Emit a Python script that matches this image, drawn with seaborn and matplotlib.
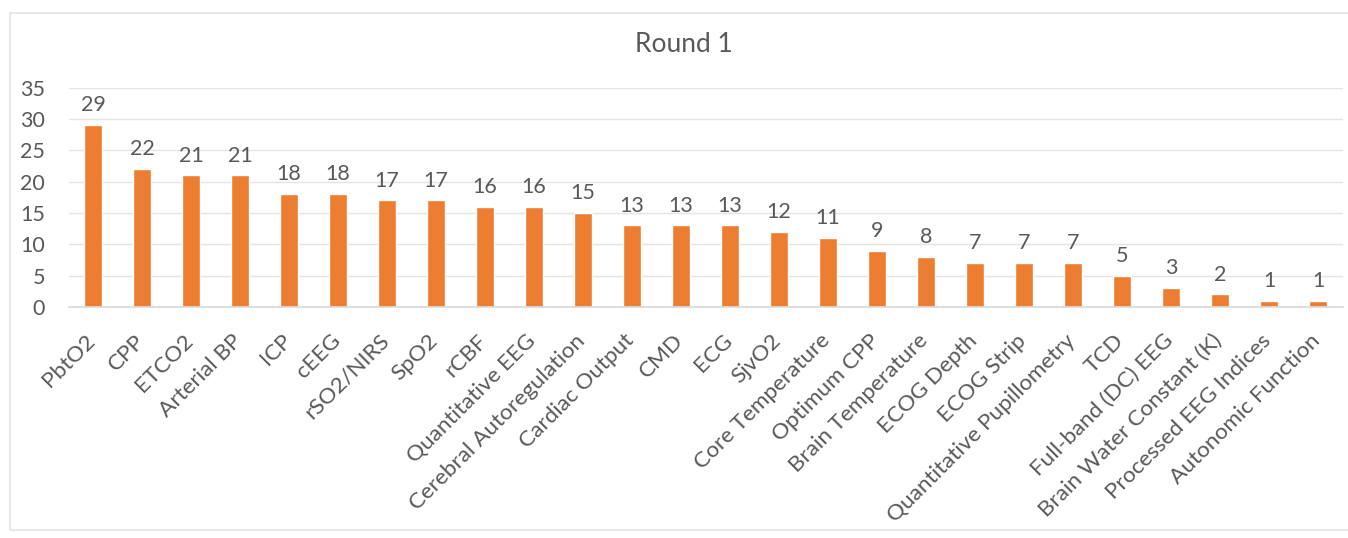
import matplotlib
matplotlib.use("Agg")
import matplotlib.pyplot as plt
from matplotlib.patches import Rectangle
import matplotlib.transforms as mtransforms
import seaborn as sns
import pandas as pd

categories = [
    "PbtO2", "CPP", "ETCO2", "Arterial BP", "ICP", "cEEG", "rSO2/NIRS", "SpO2",
    "rCBF", "Quantitative EEG", "Cerebral Autoregulation", "Cardiac Output", "CMD",
    "ECG", "SjvO2", "Core Temperature", "Optimum CPP", "Brain Temperature",
    "ECOG Depth", "ECOG Strip", "Quantitative Pupillometry", "TCD",
    "Full-band (DC) EEG", "Brain Water Constant (K)", "Processed EEG Indices",
    "Autonomic Function",
]
counts = [29, 22, 21, 21, 18, 18, 17, 17, 16, 16, 15, 13, 13, 13, 12, 11, 9, 8,
          7, 7, 7, 5, 3, 2, 1, 1]
title = "Round 1"
y_ticks = [0, 5, 10, 15, 20, 25, 30, 35]

sns.set_theme(style="white")
plt.rcParams["font.family"] = ["Lato", "DejaVu Sans"]

text_color = "#595959"
bar_color = "#ED7D31"

df = pd.DataFrame({"category": categories, "count": counts})

fig = plt.figure(figsize=(13.48, 5.38), dpi=100)
W, H = 1348, 538
n = len(categories)
left_px, right_px = 68.5, 1342.5
ax = fig.add_axes([left_px / W, 1 - 307 / H, (right_px - left_px) / W, (307 - 87.5) / H])

sns.barplot(data=df, x="category", y="count", color=bar_color, width=0.36,
            saturation=1, ax=ax)

ax.set_ylim(0, 35)
ax.set_yticks(y_ticks)
ax.set_yticklabels([str(t) for t in y_ticks], color=text_color, fontsize=15.5)
ax.yaxis.grid(True, color="#e4e4e4", linewidth=1)
ax.set_axisbelow(True)
for s in ["left", "right", "top"]:
    ax.spines[s].set_visible(False)
ax.spines["bottom"].set_color("#d9d9d9")
ax.tick_params(axis="both", length=0)
ax.tick_params(axis="y", pad=17)
ax.set_xlabel("")
ax.set_ylabel("")

ax.set_xticks(range(n))
ax.set_xticklabels(categories, rotation=45, ha="right", va="center",
                   rotation_mode="anchor", color=text_color, fontsize=16.2)
ax.tick_params(axis="x", pad=22)
shift = mtransforms.ScaledTranslation(-1 / 100, 0, fig.dpi_scale_trans)
for lbl in ax.get_xticklabels():
    lbl.set_transform(lbl.get_transform() + shift)

for container in ax.containers:
    ax.bar_label(container, labels=[str(v) for v in counts], padding=7,
                 color=text_color, fontsize=15.5)

fig.text(684 / W, 1 - 45 / H, title, ha="center", va="center",
         fontsize=19, color=text_color)

# light chart-area frame
fig.patches.append(Rectangle((10 / W, 1 - 530 / H), (1360 - 10) / W, (530 - 13) / H,
                             transform=fig.transFigure, fill=False,
                             edgecolor="#e3e3e3", linewidth=1.2))

fig.savefig("out.png", dpi=100)
